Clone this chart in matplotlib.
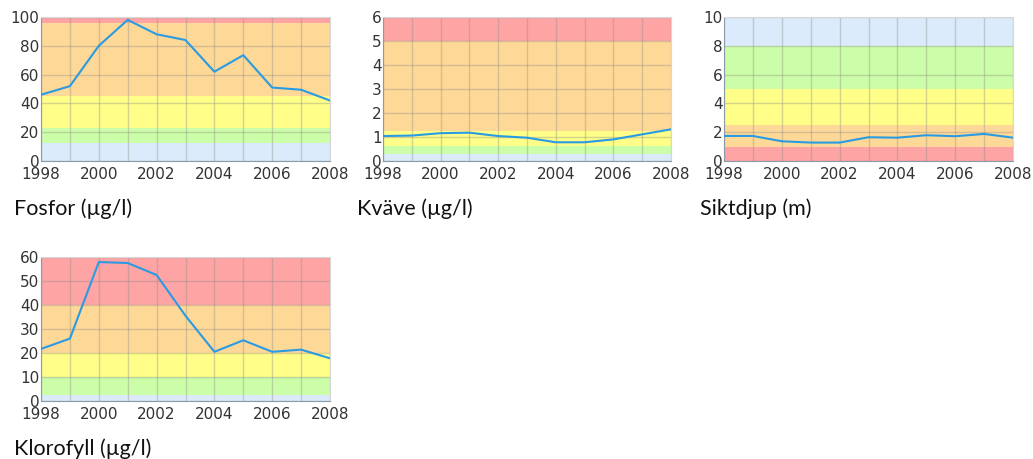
import matplotlib
matplotlib.use("Agg")
import matplotlib.pyplot as plt

plt.rcParams["font.family"] = ["DejaVu Sans"]

years = list(range(1998, 2009))

fosfor = [46, 52, 80, 98, 88, 84, 62, 73.5, 51, 49.5, 42]
kvave = [1.04, 1.06, 1.16, 1.18, 1.04, 0.97, 0.78, 0.78, 0.9, 1.11, 1.32]
siktdjup = [1.74, 1.74, 1.37, 1.28, 1.28, 1.65, 1.62, 1.79, 1.72, 1.88, 1.62]
klorofyll = [21.7, 26, 57.9, 57.5, 52.5, 35.5, 20.5, 25.3, 20.5, 21.4, 17.8]

# class limits (bottom to top) for the coloured bands
fosfor_bands = [0, 12.5, 23, 45, 96, 100]
kvave_bands = [0, 0.3, 0.625, 1.25, 5, 6]
sikt_bands = [0, 1, 2.5, 5, 8, 10]
klorofyll_bands = [0, 2.5, 10, 20, 40, 60]

blue = "#dbebfb"
green = "#ccfda8"
yellow = "#fefe88"
orange = "#fed897"
red = "#fea4a4"
good_to_bad = [blue, green, yellow, orange, red]

panels = [
    ("Fosfor (µg/l)", fosfor, fosfor_bands, good_to_bad, [0, 20, 40, 60, 80, 100]),
    ("Kväve (µg/l)", kvave, kvave_bands, good_to_bad, [0, 1, 2, 3, 4, 5, 6]),
    ("Siktdjup (m)", siktdjup, sikt_bands, good_to_bad[::-1], [0, 2, 4, 6, 8, 10]),
    ("Klorofyll (µg/l)", klorofyll, klorofyll_bands, good_to_bad, [0, 10, 20, 30, 40, 50, 60]),
]

W, H = 1033, 459
fig = plt.figure(figsize=(W / 100, H / 100), dpi=100)

# pixel boxes (left, top, right, bottom) of each plot area
boxes = [(41, 17, 330, 161), (383, 17, 671, 161), (724, 17, 1013, 161), (41, 257, 330, 401)]
title_pos = [(14, 209), (357, 209), (700, 209), (14, 449)]

for (title, vals, bands, cols, yt), box, tp in zip(panels, boxes, title_pos):
    l, t, r, b = box
    ax = fig.add_axes([l / W, (H - b) / H, (r - l) / W, (b - t) / H])
    for i in range(len(cols)):
        ax.axhspan(bands[i], bands[i + 1], color=cols[i], lw=0, zorder=0)
    ax.plot(years, vals, color="#2a9be3", lw=1.5, zorder=3)
    ax.set_xlim(1998, 2008)
    ax.set_ylim(yt[0], yt[-1])
    ax.set_xticks(years)
    ax.set_xticklabels([str(y) if y % 2 == 0 else "" for y in years])
    ax.set_yticks(yt)
    ax.grid(True, color="#888888", alpha=0.35, lw=1, zorder=1)
    ax.tick_params(labelsize=11, colors="#333333", length=0)
    ax.tick_params(axis="x", pad=4)
    ax.tick_params(axis="y", pad=1)
    for s in ["top", "right"]:
        ax.spines[s].set_color("#d8d8d8")
    for s in ["left", "bottom"]:
        ax.spines[s].set_color("#8a9aa8")
    fig.text(tp[0] / W, 1 - tp[1] / H, title, fontsize=15.5, family=["Lato", "DejaVu Sans"],
             color="#111111", va="center", ha="left")

fig.savefig("out.png", dpi=100)
